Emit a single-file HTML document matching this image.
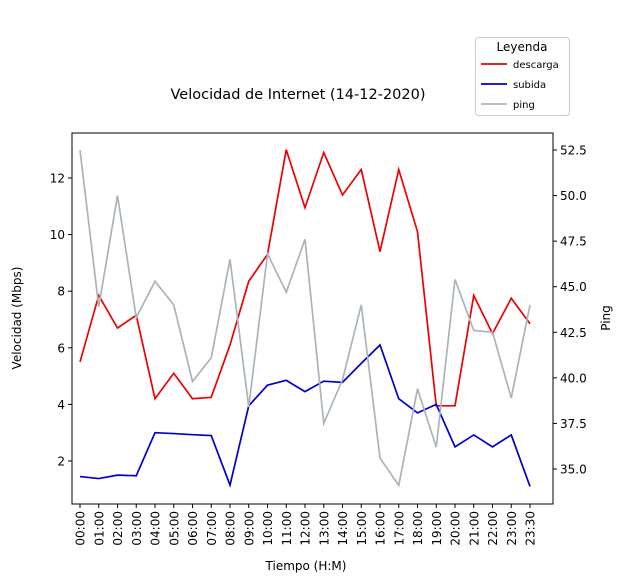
<!DOCTYPE html>
<html><head><meta charset="utf-8"><style>
body{margin:0;background:#fff;}
text{font-family:"DejaVu Sans","Liberation Sans",sans-serif;fill:#000;}
</style></head><body>
<svg id="c" width="623" height="582" xmlns="http://www.w3.org/2000/svg">
<text x="298" y="99" font-size="14.5" text-anchor="middle">Velocidad de Internet (14-12-2020)</text>
<g id="plot"></g>
<rect x="72" y="133" width="481" height="371" fill="none" stroke="#000" stroke-width="1"/>
<text x="306" y="570" font-size="12" text-anchor="middle">Tiempo (H:M)</text>
<text transform="translate(21,318) rotate(-90)" font-size="12" text-anchor="middle">Velocidad (Mbps)</text>
<text transform="translate(610,318) rotate(-90)" font-size="12" text-anchor="middle">Ping</text>
<g>
<rect x="475.5" y="37.5" width="94" height="78" rx="3" fill="#fff" stroke="#ccc"/>
<text x="522" y="51" font-size="12" text-anchor="middle">Leyenda</text>
<line x1="481" y1="64" x2="507" y2="64" stroke="#e00" stroke-width="1.8"/>
<text x="513" y="68" font-size="10">descarga</text>
<line x1="481" y1="84" x2="507" y2="84" stroke="#00c" stroke-width="1.8"/>
<text x="513" y="88" font-size="10">subida</text>
<line x1="481" y1="104" x2="507" y2="104" stroke="#aab4bb" stroke-width="1.8"/>
<text x="513" y="108" font-size="10">ping</text>
</g>
</svg>
<script>
const categories=["00:00","01:00","02:00","03:00","04:00","05:00","06:00","07:00","08:00","09:00","10:00","11:00","12:00","13:00","14:00","15:00","16:00","17:00","18:00","19:00","20:00","21:00","22:00","23:00","23:30"];
const descarga=[5.5,7.85,6.7,7.15,4.2,5.1,4.2,4.25,6.1,8.35,9.3,13,10.95,12.9,11.4,12.3,9.4,12.3,10.1,3.95,3.95,7.85,6.5,7.75,6.85];
const subida=[1.45,1.38,1.5,1.48,3.0,2.97,2.93,2.9,1.15,3.95,4.68,4.85,4.45,4.82,4.78,5.45,6.1,4.2,3.7,4.0,2.5,2.92,2.5,2.92,1.1];
const ping=[52.5,43.9,50.0,43.3,45.3,44.0,39.8,41.1,46.5,38.4,46.8,44.7,47.6,37.5,39.9,44.0,35.6,34.1,39.4,36.2,45.4,42.6,42.5,38.9,44.0];
const leftTicks=[2,4,6,8,10,12];
const rightTicks=[35.0,37.5,40.0,42.5,45.0,47.5,50.0,52.5];
const NS="http://www.w3.org/2000/svg";
const g=document.getElementById('plot');
const x=i=>80+i*(450/(categories.length-1));
const yL=v=>461-(v-2)*28.3;
const yR=v=>469-(v-35)*(319/17.5);
function mk(t,a){const e=document.createElementNS(NS,t);for(const k in a)e.setAttribute(k,a[k]);g.appendChild(e);return e;}
leftTicks.forEach(v=>{
 const l=mk('line',{x1:68,x2:72,y1:yL(v),y2:yL(v),stroke:'#000'});
 
 
 const t=mk('text',{x:65,y:yL(v)+4.5,'font-size':12,'text-anchor':'end'});t.textContent=v;
 
 
});
rightTicks.forEach(v=>{
 const l=mk('line',{x1:553,x2:557,y1:yR(v),y2:yR(v),stroke:'#000'});
 
 
 const t=mk('text',{x:560,y:yR(v)+4.5,'font-size':12});t.textContent=v.toFixed(1);
 
 
});
categories.forEach((c,i)=>{
 const l=mk('line',{x1:x(i),x2:x(i),y1:504,y2:508,stroke:'#000'});
 
 
 const t=mk('text',{transform:`translate(${x(i)+4.5},511) rotate(-90)`,'font-size':12,'text-anchor':'end'});t.textContent=c;
 
 
});
function line(arr,fy,col,name){
 const p=mk('polyline',{points:arr.map((v,i)=>x(i)+','+fy(v)).join(' '),fill:'none',stroke:col,'stroke-width':1.7});
 
 
}
line(descarga,yL,'#e00','descarga-line');
line(subida,yL,'#00c','subida-line');
line(ping,yR,'#aab4bb','ping-line');
</script>
</body></html>
